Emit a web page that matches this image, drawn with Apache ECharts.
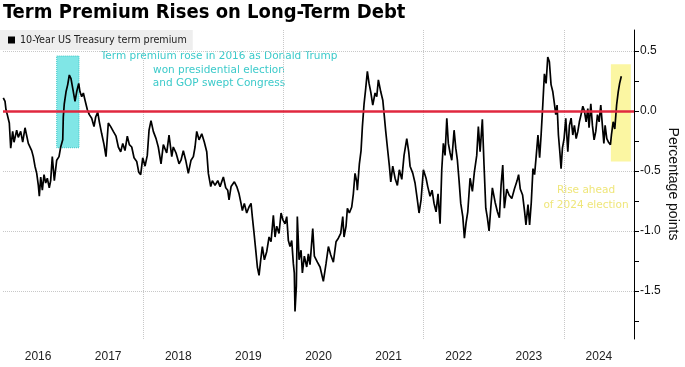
<!DOCTYPE html>
<html><head><meta charset="utf-8">
<script src="https://cdn.jsdelivr.net/npm/echarts@6/dist/echarts.min.js"></script>
<style>html,body{margin:0;padding:0;background:#fff}#c{width:685px;height:367px}</style>
</head><body><div id="c"></div>
<script>
// Dates as decimal years
const dates = [
2016.004,2016.029,2016.043,2016.061,2016.090,2016.110,2016.138,2016.157,2016.195,2016.218,2016.252,2016.281,2016.314,2016.361,2016.409,2016.432,2016.456,2016.481,2016.504,2016.518,2016.538,2016.561,2016.585,2016.609,2016.632,2016.660,2016.680,2016.703,2016.732,2016.766,2016.799,2016.823,2016.852,2016.860,2016.874,2016.899,2016.923,2016.946,2016.970,2016.994,
2017.027,2017.051,2017.080,2017.098,2017.123,2017.146,2017.170,2017.203,2017.231,2017.265,2017.298,2017.322,2017.351,2017.374,2017.408,2017.441,2017.469,2017.502,2017.536,2017.573,2017.612,2017.645,2017.679,2017.708,2017.740,2017.773,2017.802,2017.836,2017.869,2017.907,2017.936,2017.964,2017.993,
2018.026,2018.058,2018.083,2018.111,2018.144,2018.183,2018.215,2018.254,2018.287,2018.335,2018.368,2018.407,2018.429,2018.468,2018.511,2018.539,2018.572,2018.606,2018.643,2018.682,2018.715,2018.739,2018.763,2018.796,2018.835,2018.872,2018.906,2018.929,2018.963,2018.986,
2019.024,2019.063,2019.096,2019.143,2019.177,2019.205,2019.224,2019.253,2019.300,2019.334,2019.367,2019.395,2019.414,2019.442,2019.476,2019.509,2019.538,2019.556,2019.581,2019.605,2019.628,2019.652,2019.676,2019.699,2019.728,2019.762,2019.795,2019.823,2019.856,2019.880,2019.904,2019.937,2019.966,2019.994,
2020.023,2020.047,2020.070,2020.094,2020.118,2020.141,2020.155,2020.165,2020.184,2020.198,2020.223,2020.251,2020.270,2020.298,2020.332,2020.355,2020.379,2020.418,2020.441,2020.484,2020.522,2020.569,2020.608,2020.641,2020.675,2020.712,2020.750,2020.783,2020.817,2020.846,2020.864,2020.893,2020.912,2020.940,2020.974,2020.997,
2021.021,2021.046,2021.054,2021.083,2021.107,2021.126,2021.150,2021.174,2021.197,2021.221,2021.245,2021.274,2021.307,2021.331,2021.354,2021.388,2021.417,2021.435,2021.459,2021.482,2021.511,2021.531,2021.559,2021.592,2021.625,2021.653,2021.688,2021.720,2021.759,2021.787,2021.806,2021.845,2021.877,2021.910,2021.934,2021.963,2021.996,
2022.034,2022.058,2022.091,2022.120,2022.148,2022.177,2022.205,2022.234,2022.258,2022.281,2022.305,2022.330,2022.352,2022.377,2022.401,2022.434,2022.458,2022.481,2022.505,2022.529,2022.558,2022.581,2022.605,2022.629,2022.662,2022.695,2022.723,2022.757,2022.780,2022.805,2022.837,2022.861,2022.886,2022.909,2022.933,2022.957,2022.980,
2023.019,2023.052,2023.080,2023.104,2023.128,2023.151,2023.185,2023.218,2023.257,2023.294,2023.333,2023.354,2023.378,2023.411,2023.440,2023.459,2023.488,2023.511,2023.535,2023.559,2023.582,2023.606,2023.630,2023.654,2023.675,2023.699,2023.722,2023.746,2023.770,2023.793,2023.817,2023.842,2023.865,2023.884,2023.903,2023.922,2023.942,2023.960,2023.979,
2024.003,2024.027,2024.056,2024.079,2024.103,2024.127,2024.150,2024.175,2024.199,2024.221,2024.245,2024.270,2024.293,2024.317,2024.341,2024.359,2024.384,2024.407,2024.431,2024.455,2024.479,2024.503,2024.526,2024.549,2024.570,2024.588,2024.612,2024.636,2024.664,2024.678,2024.703,2024.726,2024.752,2024.775,2024.795,2024.819
];
// 10-Year US Treasury term premium, percentage points
const premium = [
0.11,0.08,0.01,-0.03,-0.10,-0.31,-0.17,-0.26,-0.16,-0.22,-0.17,-0.26,-0.14,-0.27,-0.33,-0.38,-0.46,-0.52,-0.62,-0.71,-0.55,-0.66,-0.53,-0.60,-0.56,-0.64,-0.58,-0.38,-0.58,-0.41,-0.38,-0.30,-0.24,-0.05,0.06,0.16,0.22,0.30,0.27,0.19,
0.08,0.16,0.23,0.16,0.12,0.15,0.09,0.01,-0.03,-0.06,-0.13,-0.05,-0.01,-0.09,-0.19,-0.28,-0.38,-0.10,-0.13,-0.17,-0.21,-0.30,-0.34,-0.27,-0.33,-0.21,-0.28,-0.30,-0.39,-0.42,-0.51,-0.53,-0.39,
-0.46,-0.37,-0.16,-0.08,-0.17,-0.23,-0.30,-0.44,-0.28,-0.35,-0.20,-0.38,-0.30,-0.35,-0.44,-0.41,-0.33,-0.41,-0.52,-0.41,-0.38,-0.30,-0.17,-0.24,-0.19,-0.26,-0.34,-0.52,-0.63,-0.58,
-0.62,-0.58,-0.63,-0.55,-0.64,-0.66,-0.74,-0.63,-0.59,-0.63,-0.69,-0.77,-0.83,-0.77,-0.85,-0.80,-0.77,-0.88,-1.02,-1.16,-1.30,-1.37,-1.24,-1.13,-1.24,-1.17,-1.05,-1.09,-0.87,-1.05,-0.96,-1.02,-0.85,-0.91,
-0.94,-0.88,-1.08,-1.13,-1.08,-1.27,-1.35,-1.67,-1.46,-0.88,-1.24,-1.16,-1.35,-1.21,-1.30,-1.19,-1.28,-0.98,-1.21,-1.26,-1.30,-1.42,-1.27,-1.13,-1.20,-1.26,-1.09,-1.06,-1.02,-0.88,-1.05,-0.96,-0.81,-0.85,-0.80,-0.69,
-0.52,-0.59,-0.66,-0.44,-0.33,-0.13,0.06,0.19,0.33,0.23,0.16,0.05,0.15,0.12,0.26,0.16,0.09,-0.02,-0.17,-0.30,-0.46,-0.59,-0.46,-0.56,-0.62,-0.49,-0.57,-0.37,-0.23,-0.34,-0.46,-0.52,-0.60,-0.74,-0.85,-0.74,-0.49,
-0.56,-0.63,-0.71,-0.66,-0.77,-0.84,-0.69,-0.94,-0.49,-0.27,-0.37,-0.06,-0.27,-0.35,-0.41,-0.16,-0.31,-0.41,-0.58,-0.77,-0.88,-1.06,-0.93,-0.84,-0.56,-0.67,-0.51,-0.37,-0.13,-0.34,-0.07,-0.45,-0.81,-0.89,-1.00,-0.81,-0.64,
-0.76,-0.84,-0.89,-0.62,-0.45,-0.81,-0.65,-0.70,-0.73,-0.65,-0.58,-0.53,-0.65,-0.70,-0.84,-0.95,-0.78,-0.95,-0.76,-0.48,-0.53,-0.37,-0.20,-0.39,-0.20,0.05,0.31,0.23,0.45,0.41,0.22,0.16,0.06,-0.03,0.05,-0.20,-0.34,-0.48,-0.31,
-0.23,-0.06,-0.34,-0.12,-0.06,-0.20,-0.12,-0.23,-0.17,-0.09,-0.03,0.04,0.00,-0.09,0.02,-0.14,0.06,-0.12,-0.24,-0.17,-0.03,-0.09,0.05,-0.12,-0.27,-0.12,-0.23,-0.26,-0.28,-0.20,-0.09,-0.15,0.05,0.16,0.23,0.29
];
const yearLabels = [2016,2017,2018,2019,2020,2021,2022,2023,2024];
const yLabelValues = [0.5,0,-0.5,-1,-1.5];
const yTickValues = [0.5,0.25,0,-0.25,-0.5,-0.75,-1,-1.25,-1.5,-1.75];
const xGridYears = [2018,2020,2022,2024];
const box2016 = {from:[2016.766,0.458], to:[2017.084,-0.306]};
const box2024 = {from:[2024.67,0.39], to:[2024.955,-0.42]};
const note2016 = ['Term premium rose in 2016 as Donald Trump','won presidential election','and GOP swept Congress'];
const note2024 = ['Rise ahead','of 2024 election'];
const seriesName = '10-Year US Treasury term premium';

const chart = echarts.init(document.getElementById('c'), null, {renderer:'canvas'});
const pts = dates.map((d,i)=>[d, premium[i]]);
const grid = {left:3, right:51, top:30, bottom:28};
chart.setOption({
  animation:false,
  backgroundColor:'#fff',
  grid: grid,
  legend: {
    left:0, top:30, padding:[5,6,5,8],
    backgroundColor:'#eeeeee',
    icon:'rect', itemWidth:7, itemHeight:7,
    textStyle:{fontFamily:'DejaVu Sans', fontSize:9.6, color:'#222'},
    data:[{name:seriesName, itemStyle:{color:'#000'}}]
  },
  xAxis: {
    type:'value', min:2016, max:2025,
    axisLine:{show:false},
    axisTick:{show:false, customValues:xGridYears},
    splitLine:{show:true, lineStyle:{color:'#c8c8c8', type:'dotted', width:1}},
    axisLabel:{customValues:yearLabels.map(y=>y+0.5), formatter:v=>String(Math.floor(v)),
      fontFamily:'Liberation Sans', fontSize:12, color:'#222', margin:12}
  },
  yAxis: [{
    type:'value', position:'right', min:-1.9, max:0.675,
    axisLine:{show:true, lineStyle:{color:'#000', width:1}},
    axisTick:{show:true, length:5, customValues:yTickValues, lineStyle:{color:'#000'}},
    splitLine:{show:false},
    axisLabel:{customValues:yLabelValues, formatter:v=>v.toFixed(1), margin:6,
      fontFamily:'Liberation Sans', fontSize:12, color:'#111'}
  },{
    type:'value', position:'right', min:-1.9, max:0.675,
    axisLine:{show:false}, axisLabel:{show:false},
    axisTick:{show:false, customValues:yLabelValues},
    splitLine:{show:true, lineStyle:{color:'#c8c8c8', type:'dotted', width:1}}
  }],
  series: [
    {
      type:'line', name:'boxes', data:[], z:1, silent:true,
      markArea:{silent:true, data:[
        [{coord:box2016.from, itemStyle:{color:'#80e6e6', borderColor:'#3cc6c6', borderWidth:1, borderType:'dotted'}},{coord:box2016.to}],
        [{coord:box2024.from, itemStyle:{color:'#fbf6a2', borderWidth:0}},{coord:box2024.to}]
      ]}
    },
    {
      type:'line', name:seriesName, data:pts, z:3, showSymbol:false, symbol:'none',
      lineStyle:{color:'#000', width:1.7}, itemStyle:{color:'#000'}
    },
    {
      type:'line', name:'zero', data:[], z:5, silent:true,
      markLine:{silent:true, symbol:'none', label:{show:false},
        lineStyle:{color:'#e0283f', width:2.5, type:'solid'}, data:[{yAxis:0}]}
    }
  ],
  graphic: [
    {type:'text', left:3, top:3, style:{text:'Term Premium Rises on Long-Term Debt', font:'bold 20px "DejaVu Sans Condensed"', fill:'#000'}},
    {type:'text', x:219, y:50, style:{text:note2016.join('\n'), font:'10.5px "DejaVu Sans"', fill:'#3ccaca', align:'center', verticalAlign:'top', lineHeight:13.5}},
    {type:'text', x:586, y:183.5, style:{text:note2024.join('\n'), font:'10.5px "DejaVu Sans"', fill:'#efe67a', align:'center', verticalAlign:'top', lineHeight:14.3}},
    {type:'text', x:673, y:184, rotation:-Math.PI/2, style:{text:'Percentage points', font:'14px "Liberation Sans"', fill:'#111', align:'center', verticalAlign:'middle'}}
  ]
});
</script></body></html>
